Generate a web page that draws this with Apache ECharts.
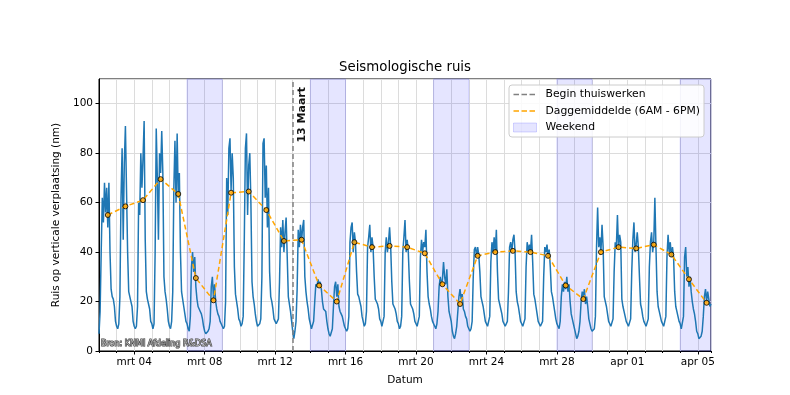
<!DOCTYPE html>
<html><head><meta charset="utf-8">
<script src="https://cdn.jsdelivr.net/npm/echarts@6/dist/echarts.min.js"></script>
<style>html,body{margin:0;padding:0;background:#fff}#c{width:790px;height:395px}</style>
</head><body><div id="c"></div>
<script>
// x values are days since 2 March 2020 00:00
const tickDays = [2, 6, 10, 14, 18, 22, 26, 30, 34];
const tickLabels = ['mrt 04', 'mrt 08', 'mrt 12', 'mrt 16', 'mrt 20', 'mrt 24', 'mrt 28', 'apr 01', 'apr 05'];
const sampleHours = [0, 1.5, 3, 4.5, 6, 7.5, 9, 10.5, 12, 13.5, 15, 16.5, 18, 19.5, 21, 22.5];
// seismic noise (nm), one row per day (2 Mar ... 5 Apr), samples at sampleHours
const noise = [
  [7, 16, 40, 62, 52, 68, 56, 66, 50, 68, 40, 25, 22, 21, 18, 12],
  [10, 9, 11, 22, 62, 82, 45, 76, 91, 65, 40, 24, 22, 20, 18, 12],
  [10, 9, 10, 18, 60, 55, 80, 66, 78, 93, 45, 24, 21, 19, 17, 12],
  [11, 9, 11, 40, 90, 70, 45, 80, 72, 89, 72, 30, 24, 21, 17, 12],
  [10, 9, 12, 24, 66, 85, 60, 88, 62, 72, 40, 24, 21, 18, 15, 12],
  [11, 9, 8, 14, 34, 40, 32, 38, 26, 21, 18, 17, 16, 15, 13, 10],
  [8, 7, 7, 8, 9, 12, 26, 30, 21, 27, 20, 17, 15, 14, 12, 11],
  [11, 9, 10, 20, 70, 55, 82, 86, 65, 80, 70, 34, 23, 20, 17, 13],
  [12, 10, 11, 14, 45, 82, 88, 55, 75, 80, 60, 28, 22, 19, 15, 12],
  [10, 10, 11, 13, 30, 84, 86, 62, 75, 50, 66, 32, 22, 20, 17, 13],
  [12, 11, 11, 13, 28, 50, 42, 53, 40, 48, 54, 38, 22, 19, 16, 12],
  [8, 5, 8, 12, 25, 49, 42, 51, 44, 50, 53, 30, 24, 20, 17, 13],
  [11, 9, 9, 12, 20, 27, 26, 29, 27, 28, 25, 20, 17, 17, 16, 12],
  [9, 7, 6, 6, 9, 18, 26, 28, 22, 27, 18, 16, 15, 14, 12, 10],
  [9, 8, 9, 14, 44, 50, 52, 40, 48, 44, 32, 23, 22, 20, 18, 14],
  [12, 10, 11, 16, 42, 46, 51, 40, 46, 42, 30, 21, 20, 19, 17, 13],
  [12, 10, 10, 14, 40, 46, 40, 44, 50, 42, 28, 19, 18, 17, 15, 12],
  [11, 9, 10, 14, 40, 46, 53, 40, 45, 40, 28, 19, 18, 17, 15, 12],
  [11, 10, 10, 14, 38, 45, 40, 44, 42, 49, 32, 22, 19, 17, 14, 12],
  [12, 10, 9, 11, 16, 26, 30, 27, 29, 36, 30, 27, 33, 22, 16, 14],
  [12, 8, 6, 5, 7, 10, 16, 22, 25, 21, 23, 17, 16, 14, 13, 10],
  [9, 8, 9, 12, 30, 41, 42, 38, 42, 39, 32, 22, 20, 18, 15, 12],
  [12, 10, 10, 14, 36, 44, 40, 46, 40, 49, 32, 21, 19, 17, 15, 12],
  [11, 10, 10, 12, 24, 42, 44, 40, 45, 47, 40, 24, 20, 18, 15, 12],
  [11, 10, 10, 13, 34, 44, 40, 43, 40, 47, 36, 23, 21, 18, 15, 12],
  [12, 10, 10, 12, 30, 42, 40, 43, 38, 41, 34, 24, 22, 19, 16, 13],
  [11, 10, 9, 12, 22, 27, 24, 28, 25, 30, 24, 27, 20, 15, 13, 11],
  [9, 7, 5, 6, 8, 12, 20, 24, 22, 25, 19, 22, 18, 13, 11, 9],
  [8, 8, 9, 14, 42, 58, 42, 46, 40, 51, 42, 22, 20, 18, 15, 12],
  [11, 10, 10, 13, 32, 44, 42, 55, 41, 47, 44, 21, 18, 16, 14, 12],
  [11, 10, 10, 13, 32, 45, 52, 40, 43, 48, 42, 30, 19, 17, 14, 12],
  [11, 10, 10, 13, 34, 44, 48, 40, 44, 62, 42, 24, 18, 16, 14, 12],
  [12, 10, 10, 14, 38, 47, 40, 44, 38, 42, 38, 24, 18, 16, 14, 12],
  [11, 9, 9, 14, 38, 42, 30, 34, 26, 30, 24, 20, 17, 15, 12, 8],
  [7, 5, 5, 6, 8, 14, 22, 25, 20, 24, 21, 18, 19]
];
// daily mean 6AM-6PM (nm), plotted at noon
const dailyMean = [55, 58.5, 61, 69.5, 63.5, 29.5, 20.5, 64, 64.5, 57, 44.5, 45, 26.5, 20, 44, 42, 42.5, 42, 39.5,
  27, 19, 38.5, 40, 40.5, 40, 38.5, 26.5, 21, 40, 42, 41.5, 43, 39, 29, 19.5];
const weekends = [[5, 7], [12, 14], [19, 21], [26, 28], [33, 34.75]];
const homeWorkDay = 11; // 13 maart
const xMax = 34.75;

const F = 'DejaVu Sans';
const noiseData = [];
noise.forEach((row, d) => row.forEach((v, i) => noiseData.push([d + sampleHours[i] / 24, v])));
const meanData = dailyMean.map((v, d) => [d + 0.5, v]);

// dashed-line legend icon (with tiny corner marks to fix the 23x9 box)
const dashIcon = 'path://M0,0L0.05,0L0,0.05Z M0,3.75h5.5v1.5h-5.5Z M8,3.75h5.5v1.5h-5.5Z M16,3.75h5.5v1.5h-5.5Z M23,9L22.95,9L23,8.95Z';

const chart = echarts.init(document.getElementById('c'));
const txt = {fontFamily: F, fontSize: 10.5, color: '#000'};
chart.setOption({
  animation: false,
  title: {text: 'Seismologische ruis', left: 400, top: 56, textAlign: 'center',
    textStyle: {fontFamily: F, fontSize: 13.3, fontWeight: 'normal', color: '#000'}},
  grid: {left: 99, right: 79, top: 79, bottom: 44, show: true, borderColor: '#000', borderWidth: 1},
  legend: {
    orient: 'vertical', left: 509, top: 85, itemWidth: 23, itemHeight: 9, itemGap: 5.5,
    backgroundColor: 'rgba(255,255,255,0.85)', borderColor: '#cccccc', borderWidth: 1, borderRadius: 3,
    padding: [4, 4, 4, 4], textStyle: Object.assign({}, txt, {fontSize: 10.8, padding: [0, 0, 0, 4]}),
    data: [
      {name: 'Begin thuiswerken', icon: dashIcon, itemStyle: {color: '#808080', borderWidth: 0}},
      {name: 'Daggemiddelde (6AM - 6PM)', icon: dashIcon, itemStyle: {color: '#ffa500', borderWidth: 0}},
      {name: 'Weekend', icon: 'rect', itemStyle: {color: 'rgba(0,0,255,0.1)', borderColor: 'rgba(0,0,255,0.15)', borderWidth: 1}}
    ]
  },
  xAxis: [
    {type: 'value', min: 0, max: xMax, interval: 1,
      axisLine: {show: true, onZero: false, lineStyle: {color: '#000'}},
      axisTick: {show: true, customValues: tickDays, length: 3.5, lineStyle: {color: '#000'}},
      axisLabel: Object.assign({customValues: tickDays, margin: 6,
        formatter: v => tickLabels[tickDays.indexOf(Math.round(v))] || ''}, txt),
      splitLine: {show: false},
      name: 'Datum', nameLocation: 'middle', nameGap: 24, nameTextStyle: txt},
    {type: 'value', min: 0, max: xMax, interval: 1, position: 'bottom',
      axisLine: {show: false}, axisTick: {show: true, length: 2, lineStyle: {color: '#000'}},
      axisLabel: {show: false}, splitLine: {show: true, lineStyle: {color: '#dcdcdc', width: 1}}}
  ],
  yAxis: {type: 'value', min: 0, max: 110, interval: 20,
    axisLine: {show: true, lineStyle: {color: '#000'}},
    axisTick: {show: true, length: 3.5, lineStyle: {color: '#000'}},
    axisLabel: Object.assign({showMaxLabel: false, margin: 6}, txt),
    splitLine: {show: true, lineStyle: {color: '#dcdcdc', width: 1}},
    name: 'Ruis op verticale verplaatsing (nm)', nameLocation: 'middle', nameGap: 22, nameTextStyle: txt},
  series: [
    {name: 'Weekend', type: 'line', data: [], z: 1, silent: true,
      itemStyle: {color: 'rgba(0,0,255,0.1)'},
      markArea: {silent: true, itemStyle: {color: 'rgba(0,0,255,0.1)', borderColor: 'rgba(0,0,255,0.15)', borderWidth: 1},
        data: weekends.map(w => [{xAxis: w[0]}, {xAxis: w[1]}])}},
    {name: 'ruis', type: 'line', data: noiseData, symbol: 'none', z: 3, silent: true,
      lineStyle: {color: '#1f77b4', width: 1.5}},
    {name: 'Begin thuiswerken', type: 'line', data: [], z: 4, symbol: 'none', silent: true,
      itemStyle: {color: '#808080'}, lineStyle: {color: '#808080', type: [5, 3], width: 1.5},
      markLine: {silent: true, symbol: ['none', 'none'], label: {show: false},
        lineStyle: {color: '#808080', type: [5, 3], width: 1.5}, data: [{xAxis: homeWorkDay}]}},
    {name: 'Daggemiddelde (6AM - 6PM)', type: 'line', data: meanData, symbol: 'none', z: 5, silent: true,
      itemStyle: {color: '#ffa500'}, lineStyle: {color: '#ffa500', type: [5, 3], width: 1.5}},
    {name: 'dots', type: 'scatter', data: meanData, symbolSize: 5, z: 6, silent: true,
      itemStyle: {color: '#ffa500', borderColor: '#000', borderWidth: 1}}
  ]
});
const p = chart.convertToPixel({xAxisIndex: 0, yAxisIndex: 0}, [homeWorkDay, 110]);
const q = chart.convertToPixel({xAxisIndex: 0, yAxisIndex: 0}, [0, 0]);
chart.setOption({graphic: [
  {type: 'text', x: p[0] + 9, y: p[1] + 8, rotation: Math.PI / 2, z: 10,
    style: {text: '13 Maart', fontFamily: F, fontSize: 11, fontWeight: 'bold', fill: '#111',
      stroke: '#ffffff', lineWidth: 2, strokeFirst: true, align: 'right', verticalAlign: 'middle'}},
  {type: 'text', x: q[0] + 2, y: q[1] - 7, z: 10,
    style: {text: 'Bron: KNMI Afdeling R&DSA', fontFamily: F, fontSize: 8, fill: '#b5b5b5',
      stroke: '#404040', lineWidth: 1.2, strokeFirst: true, align: 'left', verticalAlign: 'middle'}}
]});
</script></body></html>
